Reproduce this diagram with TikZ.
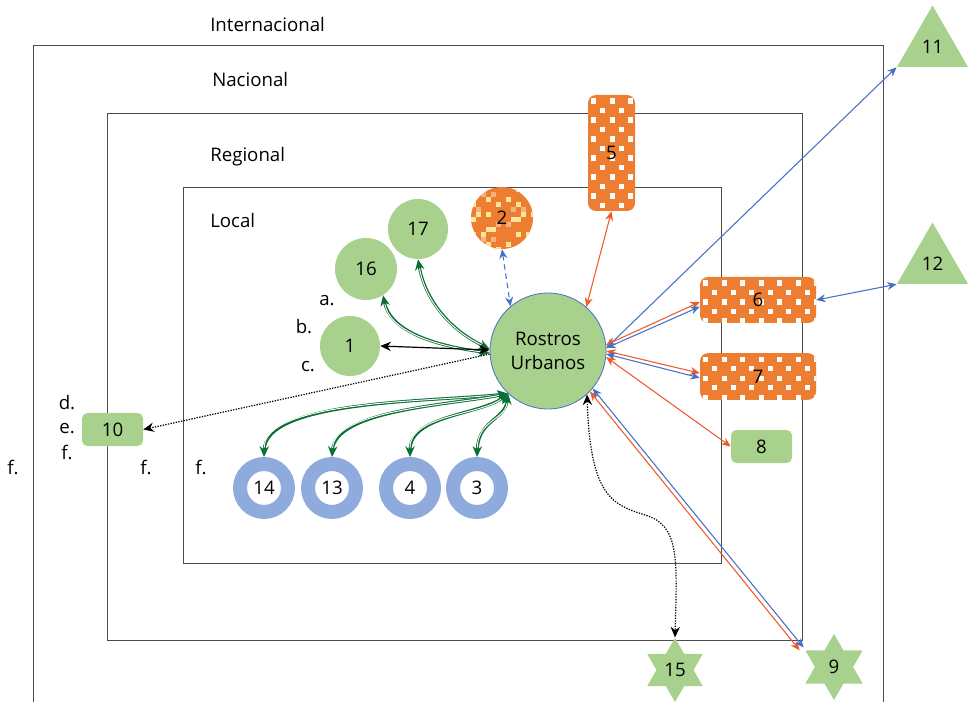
\documentclass[tikz,border=0pt]{standalone}
\usepackage{fontspec}
\setmainfont{Open Sans}
\usetikzlibrary{arrows.meta,shapes.geometric,calc}
\definecolor{gfill}{HTML}{A9D18E}
\definecolor{ofill}{HTML}{ED7D31}
\definecolor{ringblue}{HTML}{8FAADC}
\definecolor{lblue}{HTML}{4472C4}
\definecolor{lorange}{HTML}{F05A28}
\definecolor{dgreen}{HTML}{0B6E35}
\definecolor{cyel}{HTML}{FFE699}
\definecolor{clor}{HTML}{F4B183}
\tikzset{
  txt/.style={font=\fontsize{14}{18}\selectfont, inner sep=0pt},
  boxline/.style={draw=black!70, line width=0.7pt},
  gcirc/.style={txt, circle, fill=gfill},
  grect/.style={txt, rectangle, rounded corners=4pt, fill=gfill, minimum width=45.75pt, minimum height=24.75pt},
  ring/.style={txt, circle, fill=white, draw=ringblue, line width=10.5pt, minimum size=36pt},
  tri/.style={txt, regular polygon, regular polygon sides=3, minimum size=61.5pt, fill=gfill},
  hexstar/.style={txt, star, star points=6, star point ratio=1.73, fill=gfill},
  dotpat/.style={path picture={
    \foreach \i in {0,...,12}{\foreach \j in {0,...,6}{
      \fill[white, sharp corners] ($(path picture bounding box.north west)+({\j*18.5+mod(\i,2)*9.25+3},{\i*9.5+3.5})$) rectangle ++(5.2,5.2);
    }}}},
  checkpat/.style={path picture={
    \foreach \i in {0,...,13}{\foreach \j in {0,...,13}{
      \pgfmathtruncatemacro\k{mod(\i*\i*3+\j*7+\i*\j*5+\j*\j,9)}
      \ifnum\k=0 \fill[cyel, sharp corners] ($(path picture bounding box.north west)+({\j*5},{\i*5})$) rectangle ++(5,5);\fi
      \ifnum\k=4 \fill[clor, sharp corners] ($(path picture bounding box.north west)+({\j*5},{\i*5})$) rectangle ++(5,5);\fi
    }}}},
  orect/.style={txt, rectangle, rounded corners=6pt, fill=ofill, dotpat},
  garrow/.style={draw=dgreen, line width=2.2pt, {Stealth[length=8pt,width=7pt]}-{Stealth[length=8pt,width=7pt]},
     postaction={draw=white, line width=0.7pt, -, shorten >=7pt, shorten <=7pt}},
  barrow/.style={draw=lblue, line width=0.8pt, {Stealth[length=7pt,width=6pt]}-{Stealth[length=7pt,width=6pt]}},
  oarrow/.style={draw=lorange, line width=0.8pt, {Stealth[length=7pt,width=6pt]}-{Stealth[length=7pt,width=6pt]}},
  karrow/.style={draw=black, line width=0.9pt, {Stealth[length=8pt,width=7pt]}-{Stealth[length=8pt,width=7pt]}},
  dotline/.style={draw=black, line width=0.9pt, dash pattern=on 1pt off 1pt},
}
\begin{document}
\begin{tikzpicture}[x=0.75pt,y=-0.75pt]
\useasboundingbox (0,0) rectangle (968,702);
% frames
\draw[boxline] (33,702) -- (33,45) -- (883,45) -- (883,702);
\draw[boxline] (107,113) rectangle (802,640);
\draw[boxline] (183,187) rectangle (721,563);
% level labels
\node[txt, anchor=base west] (tInt) at (210,31.5) {Internacional};
\node[txt, anchor=base west] (tNac) at (212,87) {Nacional};
\node[txt, anchor=base west] (tReg) at (210,162) {Regional};
\node[txt, anchor=base west] (tLoc) at (210,228) {Local};
% letters
\node[txt] (la) at (327,301) {a.};
\node[txt] (lb) at (304,327) {b.};
\node[txt] (lc) at (308,367) {c.};
\node[txt] (ld) at (67,403) {d.};
\node[txt] (le) at (67,429) {e.};
\node[txt] (lf1) at (67,452) {f.};
\node[txt] (lf2) at (13,467) {f.};
\node[txt] (lf3) at (146,467) {f.};
\node[txt] (lf4) at (201,467) {f.};
% nodes
\node[gcirc, minimum size=87pt, draw=lblue, line width=0.6pt, align=center] (R) at (548,351) {Rostros\\Urbanos};
\node[gcirc, minimum size=45pt] (n17) at (418,229) {17};
\node[gcirc, minimum size=46.5pt] (n16) at (366,269) {16};
\node[gcirc, minimum size=45pt] (n1) at (350,346) {1};
\node[txt, circle, fill=ofill, minimum size=46.5pt, checkpat] (n2) at (502,218) {2};
\node[orect, minimum width=35.25pt, minimum height=87pt] (n5) at (611.5,153) {5};
\node[orect, minimum width=87pt, minimum height=34.5pt] (n6) at (758,300) {6};
\node[orect, minimum width=87pt, minimum height=35pt] (n7) at (758,376.5) {7};
\node[grect] (n8) at (761.5,446.5) {8};
\node[grect] (n10) at (112.5,429.5) {10};
\node[tri] (n11) at (932.5,46.5) {11};
\node[tri] (n12) at (932.5,263.5) {12};
\node[hexstar, minimum size=48pt] (n15) at (675,670) {15};
\node[hexstar, minimum size=49.5pt] (n9) at (834,667) {9};
\node[ring] (n14) at (264,488) {14};
\node[ring] (n13) at (332,488) {13};
\node[ring] (n4) at (410,488) {4};
\node[ring] (n3) at (477,488) {3};
% green connectors
\draw[garrow] (R.182) .. controls (430,345) and (390,330) .. (n16.-57);
\draw[garrow] (R.178) .. controls (450,330) and (425,300) .. (n17.south);
\draw[garrow] (R.227) .. controls (430,402) and (265,400) .. (n14.north);
\draw[garrow] (R.227) .. controls (450,405) and (335,410) .. (n13.north);
\draw[garrow] (R.227) .. controls (480,415) and (410,415) .. (n4.north);
\draw[garrow] (R.227) .. controls (505,420) and (478,420) .. (n3.north);
% black
\draw[karrow] (n1.east) -- (R.179);
\draw[dotline, -{Stealth[length=8pt,width=7pt]}] (R.183) -- (n10.east);
\draw[dotline, {Stealth[length=8pt,width=7pt]}-{Stealth[length=8pt,width=7pt]}] (R.-48) .. controls (590,500) and (615,505) .. (645,515) .. controls (680,525) and (677,560) .. (n15.north);
% blue dashed
\draw[draw=lblue, line width=0.8pt, dash pattern=on 4pt off 3pt, {Stealth[length=7pt,width=6pt]}-{Stealth[length=7pt,width=6pt]}] (n2.south) -- (R.130);
% orange / blue
\draw[oarrow] (n5.south) -- (R.49);
\draw[barrow] (R.3) -- (n11.corner 2);
\draw[barrow] (n6.east) -- (n12.corner 2);
\draw[oarrow] (R.6) -- ([yshift=-1.5pt]n6.west);
\draw[barrow] (R.3) -- ([yshift=-5pt]n6.west);
\draw[oarrow] (R.0) -- ([yshift=2.5pt]n7.west);
\draw[barrow] (R.-3) -- ([yshift=-1pt]n7.west);
\draw[oarrow] (R.-6) -- (n8.west);
\draw[oarrow] (R.-44) -- ([xshift=-4pt]n9.outer point 2);
\draw[barrow] (R.-40) -- ([xshift=-1pt,yshift=2pt]n9.outer point 2);
\end{tikzpicture}
\end{document}
